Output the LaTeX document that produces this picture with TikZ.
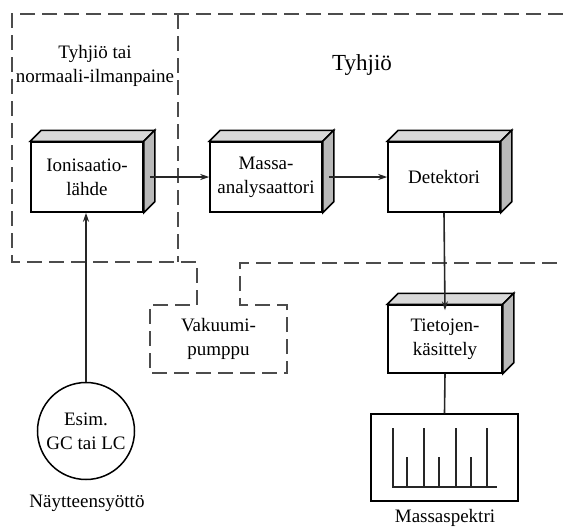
\documentclass[tikz,border=0pt]{standalone}
\usepackage{fontspec}
\setmainfont{Liberation Serif}
\usetikzlibrary{arrows.meta}
\begin{document}
\begin{tikzpicture}[x=1pt,y=-1pt,
  box3d/.style={draw, line width=1.5pt, fill=white, minimum width=112pt, minimum height=70pt, align=center, inner sep=0pt, font=\fontsize{19}{24}\selectfont},
  lbl/.style={align=center, inner sep=0pt, font=\fontsize{19}{24}\selectfont},
  dsh/.style={line width=2pt, dash pattern=on 15pt off 7pt, black!70},
  conn/.style={line width=1.6pt, black!85},
  arr/.style={line width=1.6pt, black!85, -{Stealth[length=9pt,width=6pt]}}]
\useasboundingbox (0,0) rectangle (563,528);
\newcommand{\boxdepth}[1]{%
  \filldraw[line width=1.5pt, fill=gray!30] (#1.north west) -- ++(11,-11) -- ([shift={(11,-11)}]#1.north east) -- (#1.north east) -- cycle;
  \filldraw[line width=1.5pt, fill=gray!55] (#1.north east) -- ++(11,-11) -- ([shift={(11,-11)}]#1.south east) -- (#1.south east) -- cycle;}
% dashed regions
\draw[dsh] (563,14) -- (12,14) -- (12,262) -- (197,262) -- (197,305) -- (150,305) -- (150,373) -- (287,373) -- (287,305) -- (240,305) -- (240,263) -- (563,263);
\draw[dsh] (178,14) -- (178,262);
% texts
\node[lbl] (vac) at (218.5,339) {Vakuumi-\\pumppu};
\node[lbl] (atm) at (95,66) {Tyhjiö tai\\normaali-ilmanpaine};
\node[lbl, font=\fontsize{23}{28}\selectfont] (vacuum) at (362,65) {Tyhjiö};
% boxes
\node[box3d] (ion) at (87,177) {Ionisaatio-\\lähde};
\node[box3d] (mass) at (266,177) {Massa-\\analysaattori};
\node[box3d] (det) at (444,177) {Detektori};
\node[box3d, minimum width=114pt, minimum height=68pt] (tiet) at (445,339) {Tietojen-\\käsittely};
\boxdepth{ion}
\boxdepth{mass}
\boxdepth{det}
\boxdepth{tiet}
% sample inlet
\node[draw, circle, line width=1.5pt, minimum size=97pt, inner sep=0pt, align=center, font=\fontsize{19}{24}\selectfont] (gc) at (86,431) {Esim.\\GC tai LC};
\node[lbl] (inlet) at (87,503) {Näytteensyöttö};
% spectrum
\node[draw, line width=1.5pt, minimum width=147pt, minimum height=87pt, inner sep=0pt] (spec) at (444.5,457.5) {};
\node[lbl] (speclbl) at (445,518) {Massaspektri};
\draw[conn] (392,487) -- (497,487);
\foreach \xx in {393,424,456,487} \draw[conn] (\xx,487) -- (\xx,428);
\foreach \xx in {407,439,471} \draw[conn] (\xx,487) -- (\xx,457);
% connectors
\draw[arr] (gc.north) -- (gc.north |- ion.south);
\draw[arr] ([xshift=6pt]ion.east) -- (mass.west);
\draw[arr] ([xshift=6pt]mass.east) -- (det.west);
\draw[arr] (det.south) -- ([yshift=-6pt]tiet.north);
\draw[conn] (tiet.south) -- (spec.north);
\end{tikzpicture}
\end{document}
